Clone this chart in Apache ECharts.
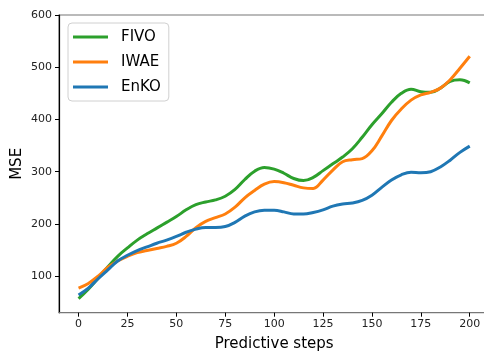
<!DOCTYPE html>
<html>
<head>
<meta charset="utf-8">
<script src="https://cdn.jsdelivr.net/npm/echarts@6/dist/echarts.min.js"></script>
<style>
  html, body { margin: 0; padding: 0; background: #fff; }
  #chart { width: 484px; height: 354px; }
</style>
</head>
<body>
<div id="chart"></div>
<script>
// Prediction horizon (steps) and the MSE of each method at those steps
const steps = [0, 5, 10, 15, 20, 25, 30, 35, 40, 45, 50, 55, 60, 65, 70, 75, 80, 85, 90, 95, 100,
               105, 110, 115, 120, 125, 130, 135, 140, 145, 150, 155, 160, 165, 170, 175, 180, 185, 190, 195, 200];
const fivo = [57, 75, 96, 118, 138, 154, 169, 181, 192, 203, 214, 227, 237, 242, 246, 253, 266, 285, 301, 308, 305,
              297, 287, 283, 289, 302, 315, 328, 344, 366, 390, 411, 433, 450, 458, 453, 452, 460, 473, 476, 470];
const iwae = [77, 86, 100, 117, 129, 138, 145, 149, 153, 157, 163, 176, 193, 205, 212, 219, 232, 250, 264, 276, 281,
              279, 274, 269, 268, 284, 303, 319, 323, 325, 340, 368, 398, 420, 437, 447, 452, 460, 476, 498, 521];
const enko = [64, 77, 95, 112, 129, 140, 149, 156, 163, 169, 176, 184, 190, 193, 193, 195, 203, 215, 223, 226, 226,
              223, 219, 219, 222, 227, 234, 238, 240, 245, 255, 270, 284, 294, 299, 298, 300, 309, 322, 337, 349];

const xTicks = [0, 25, 50, 75, 100, 125, 150, 175, 200];
const yTicks = [100, 200, 300, 400, 500, 600];

const FONT = 'DejaVu Sans';

function pairs(ys) { return steps.map((s, i) => [s, ys[i]]); }

function lineSeries(name, ys, color) {
  return {
    name: name,
    type: 'line',
    data: pairs(ys),
    smooth: 0.4,
    showSymbol: false,
    symbol: 'none',
    lineStyle: { color: color, width: 3 },
    itemStyle: { color: color },
    z: 3
  };
}

const chart = echarts.init(document.getElementById('chart'), null, { renderer: 'canvas' });
chart.setOption({
  animation: false,
  backgroundColor: '#ffffff',
  grid: {
    left: 59, top: 15, right: -5.3, bottom: 41.3,
    outerBoundsMode: 'none',
    containLabel: false,
    show: true, borderColor: '#777', borderWidth: 1.2, backgroundColor: 'transparent'
  },
  legend: {
    orient: 'vertical',
    left: 68, top: 23,
    icon: 'rect',
    itemWidth: 35, itemHeight: 3,
    itemGap: 7,
    padding: [5, 8, 5, 5],
    backgroundColor: '#fff',
    borderColor: '#d0d0d0',
    borderWidth: 1,
    borderRadius: 4,
    textStyle: { fontFamily: FONT, fontSize: 15, color: '#000', lineHeight: 18, padding: [0, 0, 0, 8] },
    data: ['FIVO', 'IWAE', 'EnKO']
  },
  xAxis: {
    type: 'value',
    min: -10, max: 210,
    name: 'Predictive steps',
    nameLocation: 'middle',
    nameGap: 24,
    nameTextStyle: { fontFamily: FONT, fontSize: 15, color: '#000' },
    splitLine: { show: false },
    axisLine: { show: true, onZero: false, lineStyle: { color: '#777', width: 1.2 } },
    axisTick: { show: true, length: 4, lineStyle: { color: '#000' }, customValues: xTicks },
    axisLabel: { fontFamily: FONT, fontSize: 11, color: '#222', margin: 6, customValues: xTicks }
  },
  yAxis: {
    type: 'value',
    min: 30, max: 600,
    name: 'MSE',
    nameLocation: 'middle',
    nameMoveOverlap: false,
    nameGap: 34,
    nameTextStyle: { fontFamily: FONT, fontSize: 15, color: '#000' },
    splitLine: { show: false },
    axisLine: { show: true, onZero: false, lineStyle: { color: '#000', width: 1.2 } },
    axisTick: { show: true, length: 4, lineStyle: { color: '#000' }, customValues: yTicks },
    axisLabel: { fontFamily: FONT, fontSize: 11, color: '#222', margin: 7, customValues: yTicks }
  },
  series: [
    lineSeries('FIVO', fivo, '#2ca02c'),
    lineSeries('IWAE', iwae, '#ff7f0e'),
    lineSeries('EnKO', enko, '#1f77b4')
  ]
});
</script>
</body>
</html>
